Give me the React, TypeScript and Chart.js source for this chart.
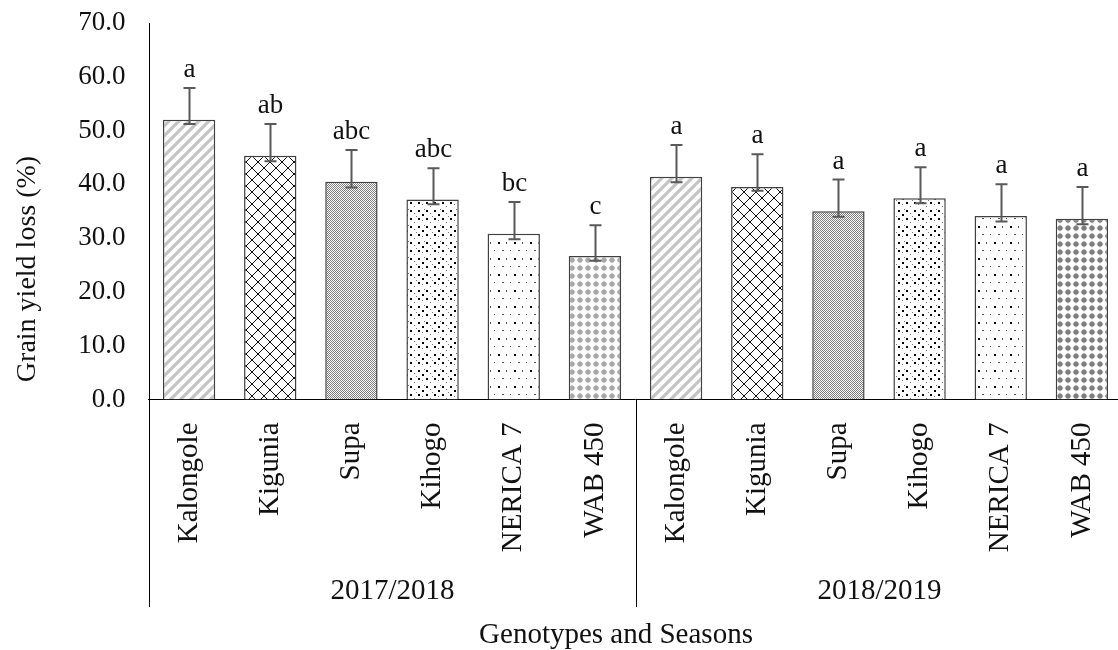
import React, { useEffect, useRef } from "react";
import { Chart, registerables } from "chart.js";

Chart.register(...registerables);

// ---------- data ----------
const genotypes = ["Kalongole", "Kigunia", "Supa", "Kihogo", "NERICA 7", "WAB 450"];
const seasons = ["2017/2018", "2018/2019"];
const loss2017 = [52.0, 45.3, 40.5, 37.2, 30.8, 26.7];
const loss2018 = [41.4, 39.5, 35.0, 37.4, 34.1, 33.6];
const errUp2017 = [5.9, 5.9, 5.9, 5.8, 5.9, 5.7];
const errUp2018 = [5.9, 6.1, 5.9, 5.8, 5.9, 5.9];
const errDown2017 = [0.8, 1.0, 1.1, 0.9, 1.0, 0.9];
const errDown2018 = [1.0, 0.7, 1.0, 0.9, 1.0, 1.0];
const letters2017 = ["a", "ab", "abc", "abc", "bc", "c"];
const letters2018 = ["a", "a", "a", "a", "a", "a"];
const yMin = 0;
const yMax = 70;
const yStep = 10;
const xTitle = "Genotypes and Seasons";
const yTitle = "Grain yield loss (%)";

const FONT = "'Liberation Serif', 'Times New Roman', serif";

function makePattern(size: number, draw: (c: CanvasRenderingContext2D, s: number) => void) {
  const t = document.createElement("canvas");
  t.width = size;
  t.height = size;
  const c = t.getContext("2d")!;
  c.fillStyle = "#ffffff";
  c.fillRect(0, 0, size, size);
  draw(c, size);
  const main = document.createElement("canvas").getContext("2d")!;
  return main.createPattern(t, "repeat")!;
}

function stripes() {
  return makePattern(10, (c, s) => {
    c.strokeStyle = "#c4c4c4";
    c.lineWidth = 3.2;
    c.beginPath();
    c.moveTo(0, s);
    c.lineTo(s, 0);
    c.moveTo(-2, 2);
    c.lineTo(2, -2);
    c.moveTo(s - 2, s + 2);
    c.lineTo(s + 2, s - 2);
    c.stroke();
  });
}

function lattice() {
  return makePattern(12, (c, s) => {
    c.strokeStyle = "#111";
    c.lineWidth = 1;
    c.beginPath();
    c.moveTo(0, 0);
    c.lineTo(s, s);
    c.moveTo(s, 0);
    c.lineTo(0, s);
    c.stroke();
    c.fillStyle = "#000";
    c.fillRect(5, 5, 2, 2);
  });
}

function fineGrid() {
  return makePattern(2, (c) => {
    c.fillStyle = "#7c7c7c";
    c.fillRect(0, 0, 1, 1);
    c.fillRect(1, 1, 1, 1);
  });
}

function xDots() {
  return makePattern(16, (c) => {
    c.fillStyle = "#000";
    c.fillRect(2, 2, 2, 2);
    c.fillRect(6, 6, 2, 2);
    c.fillRect(10, 2, 2, 2);
    c.fillRect(2, 10, 2, 2);
    c.fillRect(10, 10, 2, 2);
    c.fillStyle = "#777";
    c.fillRect(14, 14, 1, 1);
    c.fillRect(6, 12, 1, 1);
    c.fillRect(14, 5, 1, 1);
    c.fillRect(8, 1, 1, 1);
    c.fillRect(0, 8, 1, 1);
  });
}

function sparseDots() {
  return makePattern(16, (c) => {
    c.fillStyle = "#000";
    c.fillRect(2, 2, 2, 2);
    c.fillStyle = "#555";
    c.fillRect(10, 2, 1, 2);
    c.fillRect(6, 10, 2, 1);
    c.fillRect(14, 10, 1, 1);
  });
}

function blobs(color: string) {
  return makePattern(8, (c) => {
    c.fillStyle = color;
    c.beginPath();
    c.arc(4, 4, 2.6, 0, Math.PI * 2);
    c.fill();
    c.beginPath();
    c.moveTo(4, 0.3);
    c.lineTo(5.2, 4);
    c.lineTo(4, 7.7);
    c.lineTo(2.8, 4);
    c.closePath();
    c.fill();
    c.beginPath();
    c.moveTo(0.3, 4);
    c.lineTo(4, 5.2);
    c.lineTo(7.7, 4);
    c.lineTo(4, 2.8);
    c.closePath();
    c.fill();
  });
}

export default function App() {
  const ref = useRef<HTMLCanvasElement | null>(null);

  useEffect(() => {
    if (!ref.current) return;
    const labels = [...genotypes, ...genotypes];
    const values = [...loss2017, ...loss2018];
    const ups = [...errUp2017, ...errUp2018];
    const downs = [...errDown2017, ...errDown2018];
    const letters = [...letters2017, ...letters2018];
    const patterns = [
      stripes(), lattice(), fineGrid(), xDots(), sparseDots(), blobs("#a9a9a9"),
      stripes(), lattice(), fineGrid(), xDots(), sparseDots(), blobs("#7f7f7f"),
    ];

    const overlay = {
      id: "overlay",
      afterDatasetsDraw(chart: any) {
        const ctx = chart.ctx as CanvasRenderingContext2D;
        const xs = chart.scales.x;
        const ys = chart.scales.y;
        const ca = chart.chartArea;
        ctx.save();
        // error bars + letters
        values.forEach((v, i) => {
          const px = Math.round(xs.getPixelForValue(i)) + 0.5;
          const top = ys.getPixelForValue(v + ups[i]);
          const bot = ys.getPixelForValue(v - downs[i]);
          ctx.strokeStyle = "#595959";
          ctx.lineWidth = 2;
          ctx.beginPath();
          ctx.moveTo(px, top);
          ctx.lineTo(px, bot);
          ctx.moveTo(px - 6, top);
          ctx.lineTo(px + 6, top);
          ctx.moveTo(px - 6, bot);
          ctx.lineTo(px + 6, bot);
          ctx.stroke();
          ctx.fillStyle = "#111";
          ctx.font = `27px ${FONT}`;
          ctx.textAlign = "center";
          ctx.textBaseline = "alphabetic";
          ctx.fillText(letters[i], px, top - 11);
        });
        // axis lines
        const lx = Math.round(ca.left) + 0.5;
        const sepX = Math.round((xs.getPixelForValue(5) + xs.getPixelForValue(6)) / 2) + 0.5;
        ctx.strokeStyle = "#000";
        ctx.lineWidth = 1;
        ctx.beginPath();
        ctx.moveTo(lx, ca.top);
        ctx.lineTo(lx, 607);
        ctx.moveTo(sepX, ca.bottom);
        ctx.lineTo(sepX, 607);
        ctx.stroke();
        // season labels
        ctx.fillStyle = "#111";
        ctx.font = `29px ${FONT}`;
        ctx.textAlign = "center";
        ctx.textBaseline = "alphabetic";
        const c1 = (ca.left + sepX) / 2;
        const c2 = (sepX + xs.getPixelForValue(11) + (xs.getPixelForValue(11) - xs.getPixelForValue(10)) / 2) / 2;
        ctx.fillText(seasons[0], c1, 599);
        ctx.fillText(seasons[1], c2, 599);
        // x title
        ctx.font = `29px ${FONT}`;
        ctx.fillText(xTitle, 616, 643);
        // y title
        ctx.save();
        ctx.translate(28, 269);
        ctx.rotate(-Math.PI / 2);
        ctx.font = `28px ${FONT}`;
        ctx.textBaseline = "middle";
        ctx.fillText(yTitle, 0, 0);
        ctx.restore();
        ctx.restore();
      },
    };

    const chart = new Chart(ref.current, {
      type: "bar",
      data: {
        labels,
        datasets: [
          {
            data: values,
            backgroundColor: patterns as any,
            borderColor: "#404040",
            borderWidth: 1.5,
            barPercentage: 0.645,
            categoryPercentage: 1,
          },
        ],
      },
      options: {
        responsive: false,
        animation: false,
        devicePixelRatio: 1,
        layout: { padding: { top: 23, right: 7.5, left: 0, bottom: 0 } },
        plugins: { legend: { display: false }, tooltip: { enabled: false } },
        scales: {
          x: {
            grid: { display: false, drawTicks: false },
            border: { display: true, color: "#000", width: 1 },
            ticks: {
              autoSkip: false,
              minRotation: 90,
              maxRotation: 90,
              padding: 23,
              color: "#111",
              font: { family: FONT, size: 29 },
            },
            afterFit(scale: any) {
              scale.height = 250.5;
              scale.paddingLeft = 0;
              scale.paddingRight = 0;
            },
          },
          y: {
            min: yMin,
            max: yMax,
            grid: { display: false, drawTicks: false },
            border: { display: false },
            ticks: {
              stepSize: yStep,
              padding: 23,
              color: "#111",
              font: { family: FONT, size: 27 },
              callback: (v: any) => Number(v).toFixed(1),
            },
            afterFit(scale: any) {
              scale.width = 148.5;
              scale.paddingTop = 0;
              scale.paddingBottom = 0;
            },
          },
        },
      },
      plugins: [overlay],
    });
    return () => chart.destroy();
  }, []);

  return (
    <div
      style={{
        position: "fixed",
        left: 0,
        top: 0,
        width: 1118,
        height: 650,
        overflow: "hidden",
        background: "#fff",
      }}
    >
      <canvas ref={ref} width={1130} height={650} style={{ width: 1130, height: 650, display: "block" }} />
    </div>
  );
}
